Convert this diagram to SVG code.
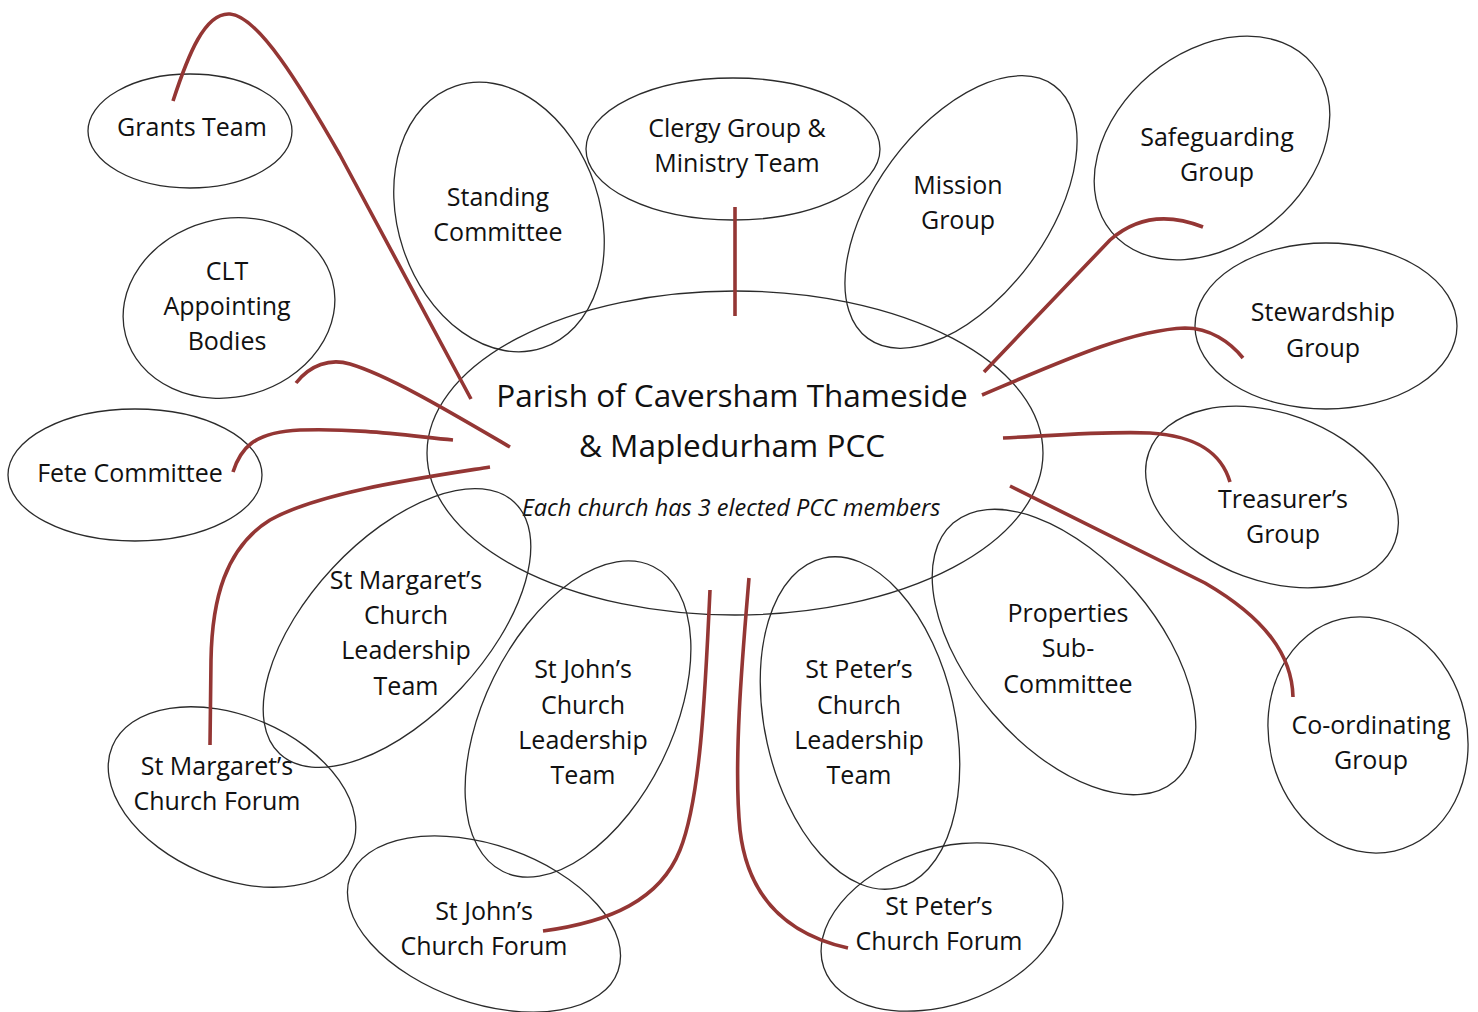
<svg xmlns="http://www.w3.org/2000/svg" width="1478" height="1012" viewBox="0 0 1478 1012">
<style>
.n ellipse{fill:none;stroke:#2b2b2b;stroke-width:1.3}
text{font-family:"Open Sans","Liberation Sans",sans-serif;font-size:25px;fill:#111;text-anchor:middle}
.title{font-size:31.5px}
.sub{font-size:23.5px;font-style:italic}
.c path{fill:none;stroke:#943634;stroke-width:3.6;stroke-linecap:butt}
</style>
<rect width="1478" height="1012" fill="#fff"/>
<g class="n">
<g id="pcc"><ellipse cx="735" cy="453" rx="308" ry="162"/>
<text class="title" x="732" y="407">Parish of Caversham Thameside</text>
<text class="title" x="732" y="457">&amp; Mapledurham PCC</text>
<text class="sub" x="731" y="516">Each church has 3 elected PCC members</text></g>
<g id="grants"><ellipse cx="190" cy="131" rx="102" ry="57"/><text x="192" y="136">Grants Team</text></g>
<g id="clt"><ellipse cx="229" cy="308" rx="107" ry="89" transform="rotate(-15 229 308)"/><text x="227" y="280">CLT</text><text x="227" y="315">Appointing</text><text x="227" y="350">Bodies</text></g>
<g id="fete"><ellipse cx="135" cy="475" rx="127" ry="66"/><text x="130" y="482">Fete Committee</text></g>
<g id="standing"><ellipse cx="499" cy="217" rx="138" ry="101" transform="rotate(71.6 499 217)"/><text x="498" y="206">Standing</text><text x="498" y="241">Committee</text></g>
<g id="clergy"><ellipse cx="733" cy="149" rx="147" ry="71"/><text x="737" y="137">Clergy Group &amp;</text><text x="737" y="172">Ministry Team</text></g>
<g id="mission"><ellipse cx="961" cy="212" rx="157" ry="86" transform="rotate(-53.6 961 212)"/><text x="958" y="194">Mission</text><text x="958" y="229">Group</text></g>
<g id="safeguarding"><ellipse cx="1212" cy="148" rx="131" ry="96" transform="rotate(-40 1212 148)"/><text x="1217" y="146">Safeguarding</text><text x="1217" y="181">Group</text></g>
<g id="stewardship"><ellipse cx="1326" cy="326" rx="131" ry="83"/><text x="1323" y="321">Stewardship</text><text x="1323" y="357">Group</text></g>
<g id="treasurer"><ellipse cx="1272" cy="497" rx="131" ry="84" transform="rotate(20 1272 497)"/><text x="1283" y="508">Treasurer’s</text><text x="1283" y="543">Group</text></g>
<g id="coordinating"><ellipse cx="1368" cy="735" rx="99" ry="119" transform="rotate(-12.8 1368 735)"/><text x="1371" y="734">Co-ordinating</text><text x="1371" y="769">Group</text></g>
<g id="properties"><ellipse cx="1064" cy="652" rx="170" ry="94" transform="rotate(49.3 1064 652)"/><text x="1068" y="622">Properties</text><text x="1068" y="657">Sub-</text><text x="1068" y="693">Committee</text></g>
<g id="stpeter-clt"><ellipse cx="860" cy="723" rx="95" ry="169" transform="rotate(-12.6 860 723)"/><text x="859" y="678">St Peter’s</text><text x="859" y="714">Church</text><text x="859" y="749">Leadership</text><text x="859" y="784">Team</text></g>
<g id="stjohn-clt"><ellipse cx="578" cy="719" rx="170" ry="94" transform="rotate(-63.8 578 719)"/><text x="583" y="678">St John’s</text><text x="583" y="714">Church</text><text x="583" y="749">Leadership</text><text x="583" y="784">Team</text></g>
<g id="stmargaret-clt"><ellipse cx="397" cy="628" rx="172" ry="88" transform="rotate(-47 397 628)"/><text x="406" y="589">St Margaret’s</text><text x="406" y="624">Church</text><text x="406" y="659">Leadership</text><text x="406" y="695">Team</text></g>
<g id="stmargaret-forum"><ellipse cx="232" cy="797" rx="130" ry="81" transform="rotate(23 232 797)"/><text x="217" y="775">St Margaret’s</text><text x="217" y="810">Church Forum</text></g>
<g id="stjohn-forum"><ellipse cx="484" cy="924" rx="142" ry="79" transform="rotate(19.3 484 924)"/><text x="484" y="920">St John’s</text><text x="484" y="955">Church Forum</text></g>
<g id="stpeter-forum"><ellipse cx="942" cy="927" rx="125" ry="78" transform="rotate(-18.9 942 927)"/><text x="939" y="915">St Peter’s</text><text x="939" y="950">Church Forum</text></g>
</g>
<g class="c" id="connectors">
<path d="M173,101 C188,55 205,12 230,14 C258,16 300,85 340,155 L471,399"/>
<path d="M296,383 C310,365 330,358 350,364 C390,376 450,412 510,447"/>
<path d="M233,472 C240,450 252,432 300,430 C360,428 410,436 453,440"/>
<path d="M490,467 C420,478 320,492 270,520 C225,548 212,600 211,660 L210,745"/>
<path d="M735,207 L735,316"/>
<path d="M984,372 L1110,240 C1135,218 1165,212 1203,227"/>
<path d="M982,395 C1060,362 1130,330 1185,328 C1210,328 1230,342 1243,358"/>
<path d="M1003,438 C1060,435 1110,431 1150,433 C1200,436 1222,455 1230,482"/>
<path d="M1010,486 L1205,583 C1265,618 1292,655 1293,697"/>
<path d="M710,590 C705,700 700,800 680,850 C660,900 610,922 543,931"/>
<path d="M749,578 C743,650 733,760 740,830 C748,900 790,935 848,948"/>
</g>
</svg>
